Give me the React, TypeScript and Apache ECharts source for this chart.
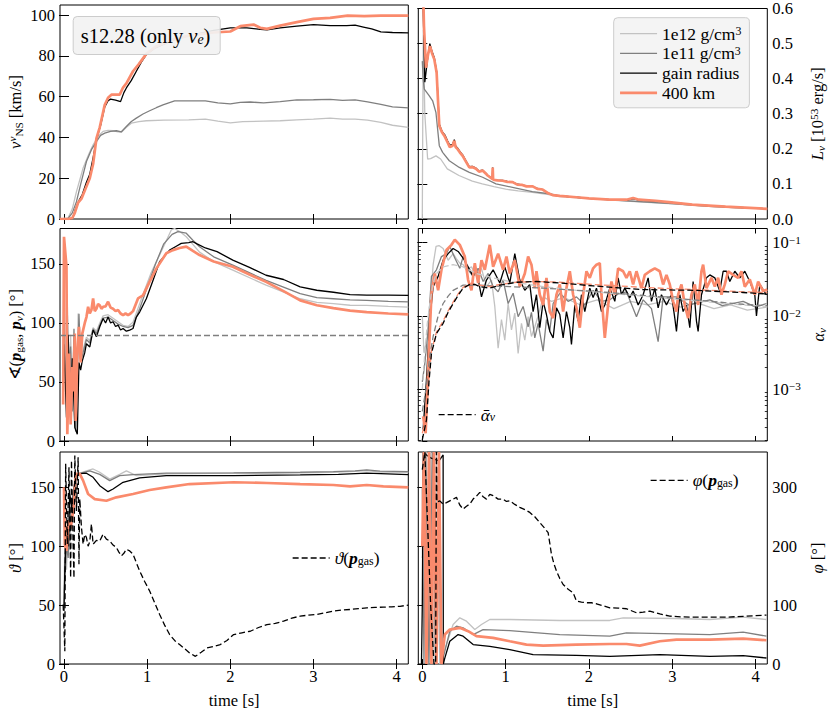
import { useEffect, useRef } from 'react';
import * as echarts from 'echarts';

type Pt = [number, number];

// ---------- axes ----------
const T_MIN = -0.048;
const T_MAX = 4.14;
const TIME_TICKS = [0, 1, 2, 3, 4];
const VNS_TICKS = [0, 20, 40, 60, 80, 100];
const LUM_TICKS = [0, 0.1, 0.2, 0.3, 0.4, 0.5, 0.6];
const ANGLE_TICKS = [0, 50, 100, 150];
const PHI_TICKS = [0, 100, 200, 300];
const ALPHA_MIN = 0.000197;
const ALPHA_MAX = 0.156;
const REF_ANGLE = 90;

const N12 = '1e12 g/cm³';
const N11 = '1e11 g/cm³';
const NGAIN = 'gain radius';
const N400 = '400 km';

// ---------- top left: v_NS [km/s] ----------
const vns1e12: Pt[] = [[-0.05,0],[0.05,0.5],[0.1,5],[0.15,13.4],[0.23,25],[0.3,32],[0.35,36.4],[0.42,41],[0.47,43],[0.53,43.5],[0.59,43.3],[0.65,42.8],[0.69,42.6],[0.75,45],[0.81,47],[0.9,47.8],[0.99,48.2],[1.2,48.5],[1.5,48.6],[1.7,49],[1.85,48],[2.0,47.2],[2.15,47.8],[2.4,48],[2.6,48.2],[2.8,48.6],[3.0,49],[3.2,49.5],[3.35,49],[3.5,49],[3.65,48.5],[3.81,47.4],[3.95,46],[4.14,45]];
const vns1e11: Pt[] = [[-0.05,0],[0.05,0.3],[0.1,3],[0.15,8.5],[0.2,17],[0.27,28.2],[0.33,34],[0.39,38],[0.44,41],[0.49,42.1],[0.56,43],[0.63,43.3],[0.69,42.8],[0.75,45.4],[0.81,47.8],[0.87,49.5],[0.95,51.5],[1.03,53.1],[1.11,54.6],[1.19,56],[1.33,58],[1.5,58],[1.7,58],[1.85,57],[2.0,56.5],[2.12,57.2],[2.24,57.4],[2.4,57],[2.6,57.6],[2.8,58.4],[3.0,58.5],[3.2,58.7],[3.35,58.2],[3.5,58.4],[3.65,57.5],[3.81,56.2],[3.95,55],[4.14,54.5]];
const vnsGain: Pt[] = [[-0.05,0],[0.08,0],[0.11,1],[0.14,5],[0.18,9],[0.22,12],[0.27,18],[0.31,22],[0.35,30],[0.39,39],[0.44,46],[0.49,55],[0.53,58],[0.56,58.8],[0.62,58.3],[0.68,57.6],[0.72,62],[0.75,64.3],[0.81,68],[0.87,72.5],[0.93,77],[0.99,80.7],[1.1,84],[1.3,87.5],[1.5,90],[1.8,92.5],[2.0,93.8],[2.2,93.8],[2.36,93],[2.44,92.8],[2.6,93.8],[2.8,94.6],[3.0,95.4],[3.2,94.9],[3.4,94.9],[3.5,95.1],[3.6,94.2],[3.7,93.3],[3.81,91.8],[3.95,91.5],[4.14,91.3]];
const vns400: Pt[] = [[-0.05,0],[0.05,0],[0.1,0.5],[0.13,3],[0.17,8],[0.21,10],[0.25,14],[0.31,20],[0.35,27],[0.39,39.5],[0.43,45],[0.49,56],[0.53,59.5],[0.57,61],[0.62,61],[0.67,61],[0.71,64.5],[0.75,66.5],[0.83,72.5],[0.9,76],[0.99,81],[1.1,84.5],[1.3,88],[1.5,90],[1.8,91.5],[2.0,92],[2.12,94.6],[2.28,95.4],[2.36,93.8],[2.44,93.3],[2.6,94.9],[2.8,96.6],[3.0,98.2],[3.2,98.7],[3.41,99.8],[3.61,99.5],[3.81,99.8],[4.14,99.8]];

// ---------- top right: L_nu [1e53 erg/s] ----------
const lum1e12: Pt[] = [[0.0,0],[0.005,0.25],[0.012,0.54],[0.03,0.3],[0.064,0.171],[0.1,0.172],[0.164,0.18],[0.22,0.171],[0.3,0.143],[0.44,0.124],[0.6,0.108],[0.72,0.1],[0.86,0.092],[1.0,0.085],[1.15,0.08],[1.32,0.076],[1.5,0.07],[1.65,0.064],[2.0,0.058],[2.45,0.051],[3.0,0.043],[3.44,0.036],[3.8,0.032],[4.14,0.029]];
const lum1e11: Pt[] = [[0.0,0.45],[0.01,0.4],[0.024,0.37],[0.084,0.351],[0.124,0.337],[0.164,0.303],[0.204,0.209],[0.244,0.19],[0.324,0.166],[0.444,0.147],[0.564,0.133],[0.724,0.119],[0.884,0.1],[1.124,0.088],[1.32,0.078],[1.52,0.072],[1.65,0.066],[2.0,0.059],[2.45,0.052],[3.0,0.044],[3.44,0.036],[3.8,0.032],[4.14,0.029]];
const lumGain: Pt[] = [[0.0,0.7],[0.02,0.5],[0.03,0.39],[0.06,0.45],[0.09,0.5],[0.12,0.475],[0.144,0.46],[0.172,0.42],[0.19,0.335],[0.204,0.27],[0.236,0.25],[0.27,0.24],[0.304,0.222],[0.33,0.21],[0.364,0.213],[0.384,0.226],[0.4,0.208],[0.424,0.202],[0.45,0.193],[0.484,0.183],[0.52,0.167],[0.564,0.149],[0.6,0.15],[0.644,0.145],[0.68,0.137],[0.724,0.139],[0.76,0.131],[0.784,0.125],[0.84,0.115],[0.845,0.147],[0.85,0.113],[0.9,0.111],[0.964,0.11],[1.02,0.107],[1.084,0.105],[1.14,0.099],[1.2,0.097],[1.25,0.094],[1.325,0.093],[1.38,0.087],[1.444,0.084],[1.5,0.075],[1.564,0.068],[1.65,0.066],[1.85,0.062],[2.0,0.059],[2.25,0.055],[2.45,0.054],[2.53,0.058],[2.6,0.054],[2.8,0.051],[2.96,0.048],[3.24,0.041],[3.64,0.035],[4.14,0.029]];
const lum400: Pt[] = [[0.0,0.75],[0.02,0.55],[0.044,0.431],[0.07,0.47],[0.092,0.493],[0.12,0.47],[0.144,0.455],[0.172,0.417],[0.19,0.33],[0.204,0.266],[0.236,0.247],[0.27,0.235],[0.304,0.218],[0.33,0.205],[0.364,0.209],[0.384,0.223],[0.4,0.205],[0.424,0.199],[0.45,0.19],[0.484,0.18],[0.52,0.165],[0.564,0.147],[0.6,0.148],[0.644,0.143],[0.68,0.135],[0.724,0.138],[0.76,0.13],[0.784,0.124],[0.84,0.114],[0.845,0.147],[0.85,0.112],[0.9,0.11],[0.964,0.109],[1.02,0.106],[1.084,0.105],[1.14,0.098],[1.2,0.097],[1.25,0.093],[1.325,0.093],[1.38,0.086],[1.444,0.084],[1.5,0.075],[1.564,0.068],[1.65,0.066],[1.85,0.062],[2.0,0.059],[2.25,0.055],[2.45,0.055],[2.53,0.06],[2.6,0.055],[2.8,0.052],[2.96,0.048],[3.24,0.041],[3.64,0.035],[4.14,0.029]];

// ---------- middle left: angle(p_gas, p_nu) [deg] ----------
const ang1e12: Pt[] = [[-0.01,40],[0.0,150],[0.02,60],[0.04,120],[0.06,20],[0.08,90],[0.1,30],[0.12,80],[0.14,10],[0.16,60],[0.17,108],[0.19,70],[0.22,75],[0.27,88],[0.31,85],[0.35,96],[0.39,93],[0.43,100],[0.47,106],[0.53,107],[0.59,104],[0.65,101],[0.71,98],[0.77,97],[0.83,100.7],[0.96,126],[1.05,143],[1.15,157.5],[1.29,178.8],[1.33,180],[1.4,177],[1.47,173],[1.63,160],[1.8,152],[2.03,144.7],[2.43,132],[2.84,120.5],[3.04,117.5],[3.24,116.3],[3.44,115],[3.64,114.8],[3.9,114],[4.14,113.4]];
const ang1e11: Pt[] = [[-0.01,60],[0.0,100],[0.02,40],[0.04,110],[0.06,30],[0.08,80],[0.1,25],[0.12,95],[0.14,8],[0.16,55],[0.18,107.8],[0.2,68],[0.22,72],[0.27,86],[0.31,83],[0.35,95],[0.39,91],[0.43,98],[0.47,104],[0.53,105],[0.59,102],[0.65,99],[0.71,97],[0.77,96],[0.83,98],[0.91,112],[0.99,128],[1.1,150],[1.2,167],[1.3,175],[1.37,177.4],[1.47,176],[1.55,170],[1.63,164.6],[1.8,156],[2.03,149],[2.43,136],[2.84,124.8],[3.04,121.5],[3.24,120.5],[3.44,119.5],[3.64,119.2],[3.9,118.3],[4.14,117.8]];
const angGain: Pt[] = [[-0.01,40],[0.0,82],[0.03,20],[0.05,90],[0.08,30],[0.1,70],[0.13,11.4],[0.16,5.7],[0.18,66.5],[0.2,60],[0.22,68],[0.25,75],[0.27,82.4],[0.31,79.7],[0.35,93.9],[0.39,88.3],[0.43,96.7],[0.47,103.8],[0.5,100],[0.53,105.1],[0.56,100],[0.59,101],[0.62,97],[0.65,98.2],[0.68,94],[0.71,95.3],[0.75,93],[0.79,93.9],[0.83,95.3],[0.87,105],[0.91,109.2],[0.99,120.5],[1.07,136],[1.15,151.8],[1.27,161.7],[1.35,165],[1.41,167.4],[1.5,168],[1.55,168.8],[1.6,167],[1.7,163.5],[1.84,160.4],[2.03,153.2],[2.23,147],[2.43,140.4],[2.64,136.8],[2.84,130.5],[3.04,127.7],[3.24,126],[3.44,124],[3.64,123.5],[3.9,123.6],[4.14,123.4]];
const ang400: Pt[] = [[-0.01,31],[0.0,173],[0.03,147.8],[0.04,5.7],[0.06,74],[0.08,14],[0.1,62.6],[0.11,42],[0.13,91],[0.14,17],[0.16,74],[0.18,96.7],[0.2,66.5],[0.22,91],[0.25,100],[0.27,105],[0.29,113.7],[0.31,108],[0.33,111],[0.35,120.8],[0.37,110],[0.39,112],[0.41,116],[0.43,115],[0.45,112],[0.47,113.7],[0.5,114],[0.53,118],[0.56,113],[0.59,112],[0.62,110],[0.65,111],[0.68,108],[0.71,106.6],[0.74,108],[0.77,106.6],[0.8,108],[0.83,110],[0.89,120.8],[0.95,123.4],[1.03,135],[1.11,146],[1.23,159],[1.31,161.7],[1.39,163.5],[1.47,164.6],[1.55,161],[1.63,157.5],[1.8,152],[2.03,147.6],[2.23,141],[2.43,134.8],[2.64,127],[2.84,119.1],[3.04,115],[3.24,112.6],[3.44,110.5],[3.64,109.2],[3.9,108],[4.14,107.2]];

// ---------- middle right: alpha_nu, stored as log10(alpha) ----------
const alpha1e12Log10: Pt[] = [[0.0,-2.0],[0.02,-2.5],[0.06,-2.3],[0.1,-1.8],[0.13,-1.3],[0.165,-1.05],[0.2,-1.04],[0.25,-1.08],[0.31,-1.24],[0.37,-1.15],[0.41,-1.22],[0.45,-1.28],[0.49,-1.3],[0.53,-1.37],[0.59,-1.33],[0.65,-1.46],[0.71,-1.35],[0.77,-1.6],[0.83,-1.51],[0.87,-1.87],[0.91,-2.44],[0.95,-2.05],[0.99,-2.33],[1.03,-1.83],[1.07,-2.19],[1.11,-1.96],[1.15,-2.51],[1.19,-2.1],[1.23,-2.33],[1.27,-2.01],[1.31,-2.28],[1.35,-2.15],[1.41,-1.92],[1.45,-1.74],[1.55,-1.8],[1.7,-1.75],[1.9,-1.85],[2.1,-1.78],[2.3,-1.9],[2.5,-1.8],[2.7,-1.85],[2.9,-1.8],[3.1,-1.88],[3.3,-1.82],[3.5,-1.9],[3.7,-1.85],[3.9,-1.92],[4.14,-1.88]];
const alpha1e11Log10: Pt[] = [[0.0,-2.9],[0.03,-2.65],[0.07,-2.19],[0.11,-1.46],[0.17,-1.37],[0.23,-1.19],[0.29,-1.15],[0.33,-1.05],[0.39,-1.21],[0.45,-1.35],[0.49,-1.19],[0.55,-1.37],[0.61,-1.46],[0.67,-1.35],[0.73,-1.53],[0.79,-1.42],[0.85,-1.6],[0.91,-1.67],[0.97,-1.51],[1.03,-1.83],[1.09,-1.69],[1.15,-2.01],[1.21,-1.87],[1.27,-2.15],[1.31,-1.95],[1.35,-2.3],[1.39,-2.1],[1.45,-2.48],[1.49,-2.05],[1.53,-2.2],[1.57,-1.83],[1.65,-1.69],[1.75,-1.8],[1.85,-1.74],[1.95,-1.85],[2.05,-1.65],[2.15,-1.8],[2.25,-1.78],[2.35,-1.7],[2.45,-1.67],[2.57,-2.01],[2.65,-1.78],[2.75,-1.9],[2.83,-2.35],[2.89,-1.74],[3.05,-1.74],[3.2,-1.85],[3.45,-1.78],[3.6,-1.86],[3.85,-1.8],[4.0,-1.88],[4.13,-1.83]];
const alphaGainLog10: Pt[] = [[0.01,-3.55],[0.05,-2.87],[0.09,-2.05],[0.13,-1.6],[0.19,-1.46],[0.25,-1.24],[0.31,-1.15],[0.37,-1.08],[0.43,-1.12],[0.49,-1.21],[0.55,-1.33],[0.61,-1.46],[0.65,-1.37],[0.71,-1.74],[0.77,-1.51],[0.85,-1.37],[0.93,-1.55],[0.99,-1.33],[1.05,-1.55],[1.11,-1.15],[1.17,-1.51],[1.23,-1.65],[1.29,-1.57],[1.33,-1.94],[1.37,-1.71],[1.41,-2.16],[1.45,-1.8],[1.49,-1.98],[1.53,-2.21],[1.57,-2.3],[1.61,-1.89],[1.65,-1.98],[1.69,-2.3],[1.73,-1.94],[1.77,-2.16],[1.79,-2.39],[1.83,-1.85],[1.87,-2.07],[1.91,-1.71],[1.95,-1.94],[2.01,-1.62],[2.05,-1.75],[2.09,-1.62],[2.15,-1.94],[2.19,-1.85],[2.25,-1.62],[2.31,-1.8],[2.35,-1.48],[2.39,-1.71],[2.43,-1.62],[2.49,-1.75],[2.53,-1.66],[2.59,-1.85],[2.65,-1.71],[2.71,-1.48],[2.75,-1.8],[2.79,-1.62],[2.83,-1.89],[2.87,-1.71],[2.93,-1.85],[2.99,-1.71],[3.03,-2.03],[3.05,-2.21],[3.09,-1.71],[3.13,-1.94],[3.17,-1.85],[3.21,-2.16],[3.25,-1.53],[3.29,-2.07],[3.31,-2.21],[3.35,-1.71],[3.41,-1.48],[3.45,-1.44],[3.51,-1.48],[3.57,-1.66],[3.61,-1.39],[3.65,-1.39],[3.69,-1.53],[3.75,-1.39],[3.81,-1.48],[3.87,-1.39],[3.93,-1.53],[3.99,-1.71],[4.01,-2.0],[4.05,-1.57],[4.13,-1.71]];
const alpha400Log10: Pt[] = [[0.01,-3.37],[0.04,-3.6],[0.07,-2.74],[0.11,-1.69],[0.15,-1.42],[0.19,-1.65],[0.23,-1.37],[0.29,-1.1],[0.35,-1.03],[0.39,-0.96],[0.45,-1.03],[0.51,-1.19],[0.55,-1.51],[0.59,-1.65],[0.63,-1.28],[0.67,-1.55],[0.71,-1.24],[0.75,-1.37],[0.81,-1.03],[0.85,-1.33],[0.91,-1.15],[0.97,-1.37],[1.01,-1.19],[1.05,-1.42],[1.11,-1.24],[1.17,-1.6],[1.23,-1.42],[1.27,-1.19],[1.31,-1.3],[1.35,-1.62],[1.37,-1.39],[1.41,-1.71],[1.45,-1.85],[1.49,-1.48],[1.53,-1.94],[1.57,-2.03],[1.61,-1.71],[1.65,-1.57],[1.69,-1.94],[1.73,-1.62],[1.77,-1.39],[1.81,-1.71],[1.85,-1.89],[1.89,-2.16],[1.93,-1.71],[1.97,-1.39],[2.01,-1.48],[2.05,-1.35],[2.09,-1.3],[2.13,-1.28],[2.15,-1.71],[2.19,-2.3],[2.23,-1.85],[2.27,-1.53],[2.31,-1.71],[2.35,-1.35],[2.41,-1.39],[2.45,-1.48],[2.49,-1.39],[2.53,-1.57],[2.57,-1.39],[2.63,-1.62],[2.67,-1.44],[2.73,-1.39],[2.79,-1.35],[2.85,-1.39],[2.89,-1.57],[2.93,-1.44],[2.97,-1.57],[3.01,-1.8],[3.05,-1.94],[3.07,-1.71],[3.11,-1.57],[3.15,-1.85],[3.19,-2.03],[3.23,-1.71],[3.27,-1.57],[3.31,-1.85],[3.35,-1.39],[3.37,-1.3],[3.41,-1.62],[3.47,-1.48],[3.51,-1.6],[3.55,-1.48],[3.59,-1.71],[3.63,-1.57],[3.67,-1.39],[3.73,-1.44],[3.79,-1.48],[3.83,-1.39],[3.87,-1.6],[3.93,-1.5],[3.99,-1.71],[4.03,-1.53],[4.09,-1.66],[4.14,-1.64]];
const abar1e12Log10: Pt[] = [[0.0,-3.0],[0.03,-2.51],[0.06,-2.1],[0.09,-1.83],[0.13,-1.55],[0.17,-1.42],[0.25,-1.33],[0.37,-1.3],[0.49,-1.33],[0.65,-1.42],[0.85,-1.48],[1.05,-1.53],[1.45,-1.6],[1.85,-1.65],[2.25,-1.69],[2.65,-1.73],[3.05,-1.77],[3.45,-1.81],[3.85,-1.85],[4.14,-1.87]];
const abar1e11Log10: Pt[] = [[0.0,-3.3],[0.05,-2.96],[0.09,-2.55],[0.13,-2.28],[0.19,-2.0],[0.25,-1.83],[0.31,-1.73],[0.37,-1.65],[0.49,-1.58],[0.65,-1.58],[1.05,-1.6],[1.45,-1.62],[1.85,-1.65],[2.25,-1.68],[2.65,-1.72],[3.05,-1.76],[3.45,-1.8],[3.85,-1.84],[4.14,-1.86]];
const abarGainLog10: Pt[] = [[0.0,-3.69],[0.05,-3.42],[0.08,-2.9],[0.11,-2.51],[0.17,-2.24],[0.25,-2.1],[0.31,-1.95],[0.37,-1.83],[0.43,-1.72],[0.49,-1.62],[0.57,-1.57],[0.63,-1.57],[0.69,-1.6],[0.75,-1.61],[0.81,-1.62],[0.93,-1.58],[1.13,-1.54],[1.37,-1.53],[1.65,-1.55],[2.05,-1.59],[2.65,-1.64],[3.25,-1.65],[3.85,-1.68],[4.14,-1.7]];
const abar400Log10: Pt[] = [[0.0,-3.6],[0.05,-3.38],[0.08,-2.85],[0.11,-2.48],[0.17,-2.22],[0.25,-2.07],[0.31,-1.93],[0.37,-1.81],[0.43,-1.7],[0.49,-1.61],[0.57,-1.56],[0.69,-1.58],[0.81,-1.6],[0.93,-1.57],[1.13,-1.54],[1.37,-1.53],[1.65,-1.54],[2.05,-1.57],[2.65,-1.61],[3.25,-1.64],[3.85,-1.67],[4.14,-1.68]];

// ---------- bottom left: theta [deg] ----------
const th1e12: Pt[] = [[0.0,60],[0.01,101.7],[0.03,80],[0.05,120],[0.07,100],[0.09,135],[0.12,150],[0.15,161],[0.27,164],[0.35,165.6],[0.43,162.8],[0.55,157],[0.67,161],[0.75,164],[0.87,160],[1.23,161.4],[2.04,162],[2.84,162.2],[3.24,162.8],[3.5,163.5],[3.64,164.2],[3.8,163],[4.14,162.8]];
const th1e11: Pt[] = [[0.0,50],[0.01,73],[0.03,100],[0.05,90],[0.08,130],[0.12,150],[0.15,161],[0.31,164],[0.43,161],[0.55,155.7],[0.67,160],[0.83,160.8],[1.23,162],[2.04,162.2],[2.84,162.8],[3.24,163.4],[3.5,164],[3.64,164.8],[3.8,163.8],[4.14,163.4]];
const thGain: Pt[] = [[0.0,45],[0.01,80],[0.03,116],[0.05,100],[0.07,144],[0.1,130],[0.13,155],[0.15,161.4],[0.27,162],[0.35,158.5],[0.43,151.4],[0.53,146.3],[0.59,148.6],[0.71,154.3],[0.91,158],[1.23,160],[2.04,160],[2.84,160.5],[3.3,161],[3.64,162],[4.14,160.8]];
const th400: Pt[] = [[0.0,150],[0.01,101.7],[0.03,96],[0.05,121.6],[0.08,115],[0.1,125],[0.12,135],[0.14,161.4],[0.19,161.4],[0.23,155.7],[0.29,144.3],[0.37,140],[0.51,138.6],[0.63,141.5],[0.83,144.3],[1.03,147.7],[1.23,150],[1.51,152.8],[2.04,154.3],[2.44,153.7],[2.84,152.8],[3.24,152],[3.44,150.8],[3.64,152],[3.84,150.8],[4.14,150]];
const thGas: Pt[] = [[-0.01,50.6],[0.01,10.8],[0.02,170],[0.04,101.7],[0.06,167],[0.08,73.3],[0.09,172.7],[0.11,100],[0.12,73],[0.13,177],[0.15,130],[0.17,175.6],[0.18,84.7],[0.19,140],[0.21,116],[0.23,101.7],[0.25,110],[0.27,107.4],[0.29,100],[0.31,104],[0.33,118.8],[0.35,101.7],[0.39,105],[0.43,104.5],[0.47,110.2],[0.51,106],[0.55,104.5],[0.59,101],[0.63,98.9],[0.66,95],[0.69,91.8],[0.72,94],[0.75,97.4],[0.79,96],[0.83,93.2],[0.87,86],[0.91,79],[0.97,70],[1.03,62],[1.09,52],[1.15,42],[1.21,33],[1.27,25],[1.33,20],[1.39,16.5],[1.45,13],[1.51,9.4],[1.58,6.5],[1.65,10],[1.72,13.6],[1.8,15],[1.88,16.5],[1.96,20],[2.04,25],[2.14,26.5],[2.24,27.8],[2.34,31],[2.44,33.5],[2.54,34.5],[2.64,36.4],[2.74,39],[2.84,40.6],[2.94,41.5],[3.04,42],[3.14,43.5],[3.24,44.9],[3.34,45.8],[3.44,46.3],[3.54,47],[3.64,47.7],[3.74,48],[3.84,48.3],[3.94,48.5],[4.04,49],[4.14,50]];

// ---------- bottom right: phi [deg] ----------
const ph1e12: Pt[] = [[0.0,180],[0.01,360],[0.05,360],[0.07,0],[0.1,360],[0.14,0],[0.17,360],[0.2,80],[0.21,0],[0.29,33],[0.37,67],[0.45,78.4],[0.53,72.7],[0.63,58.5],[0.71,67],[0.81,75.6],[1.05,75.6],[1.65,73.9],[2.25,73.9],[2.41,78.4],[3.05,77.3],[3.45,75.6],[3.85,79.5],[4.13,75.6]];
const ph1e11: Pt[] = [[0.0,300],[0.02,0],[0.04,360],[0.08,0],[0.12,360],[0.16,0],[0.2,360],[0.22,0],[0.25,10],[0.33,55.7],[0.41,64.2],[0.49,61.4],[0.61,50],[0.73,58.5],[1.05,56.8],[1.65,50],[2.25,47.2],[2.45,52.8],[3.05,51.1],[3.45,50],[3.85,54],[4.13,47.2]];
const phGain: Pt[] = [[-0.01,0],[0.0,100],[0.012,360],[0.05,355],[0.1,350],[0.2,345],[0.25,355],[0.252,0],[0.27,10],[0.33,38.6],[0.43,50],[0.49,47.2],[0.61,33],[0.81,30],[1.05,24.4],[1.33,16],[1.85,14.8],[2.25,13],[2.85,16],[3.45,13],[3.85,14.2],[4.13,10.2]];
const ph400: Pt[] = [[0.0,200],[0.02,360],[0.05,0],[0.08,360],[0.11,0],[0.14,360],[0.17,0],[0.2,360],[0.23,0],[0.27,50],[0.33,58.5],[0.45,61.4],[0.55,55.7],[0.65,47.2],[0.85,44.3],[1.05,38.6],[1.25,33],[1.45,31.25],[1.85,33],[2.25,34],[2.45,34],[2.61,31.3],[2.85,38.6],[3.05,41.5],[3.45,41.5],[3.85,43.2],[4.13,40.3]];
const phGas: Pt[] = [[0.0,330],[0.03,360],[0.06,250],[0.1,100],[0.14,0],[0.16,0],[0.17,360],[0.175,275],[0.21,277],[0.25,271.6],[0.29,274],[0.33,277],[0.37,280],[0.41,283],[0.45,270],[0.49,263],[0.53,268],[0.57,271.6],[0.61,280],[0.65,285],[0.69,291.5],[0.73,284],[0.77,280],[0.81,288],[0.85,285.8],[0.91,280],[0.97,280],[1.01,276],[1.05,277],[1.11,271],[1.17,266],[1.23,262],[1.29,257.4],[1.35,250],[1.41,240],[1.46,232],[1.51,223],[1.53,205],[1.55,186],[1.58,170],[1.61,158],[1.65,145],[1.69,135],[1.75,127],[1.81,121],[1.85,106.8],[1.91,105],[1.97,104],[2.03,104],[2.09,102.3],[2.17,99],[2.25,95.5],[2.35,95],[2.45,93.8],[2.57,87],[2.65,88],[2.73,89.8],[2.85,85],[2.97,81.3],[3.1,80],[3.25,79.5],[3.45,79.5],[3.65,79.5],[3.85,81],[4.0,82],[4.13,83]];

// ---------- styling ----------
const FONT = 'Liberation Serif, DejaVu Serif, serif';
const FS = 16.5;
const C_LIGHT = '#c2c2c2';
const C_DARK = '#7f7f7f';
const C_BLACK = '#000000';
const C_ORANGE = '#fa8a6c';
const W_THIN = 1.3;
const W_THICK = 2.7;
const DASH = [6, 3];

const base = { fontFamily: FONT, fontWeight: 'normal', color: '#000' };
const makeRich = (fs: number, lh: number) => ({
  i: { ...base, fontSize: fs, fontStyle: 'italic', lineHeight: lh },
  bi: { ...base, fontSize: fs, fontStyle: 'italic', fontWeight: 'bold', lineHeight: lh },
  sub: { ...base, fontSize: fs * 0.68, lineHeight: lh * 0.55, verticalAlign: 'bottom' },
  isub: { ...base, fontSize: fs * 0.68, fontStyle: 'italic', lineHeight: lh * 0.55, verticalAlign: 'bottom' },
  sup: { ...base, fontSize: fs * 0.68, lineHeight: lh * 0.55, verticalAlign: 'top' },
  isup: { ...base, fontSize: fs * 0.68, fontStyle: 'italic', lineHeight: lh * 0.55, verticalAlign: 'top' },
});
const RICH = makeRich(FS, 18);
const RICH_LEG = makeRich(17.5, 17);
const RICH_BIG = makeRich(20.5, 21);

const TXT = { ...base, fontSize: FS, fontStyle: 'normal', lineHeight: 18, rich: RICH };

const GRIDS = [
  { left: 60, top: 5, width: 348.3, height: 214 },
  { left: 418.3, top: 5, width: 349, height: 214 },
  { left: 60, top: 228.5, width: 348.3, height: 212.5 },
  { left: 418.3, top: 228.5, width: 349, height: 212.5 },
  { left: 60, top: 452, width: 348.3, height: 213.5 },
  { left: 418.3, top: 452, width: 349, height: 213.5 },
];

function makeX(gi: number, position: 'top' | 'bottom', labels: boolean) {
  return {
    type: 'value', gridIndex: gi, position, min: T_MIN, max: T_MAX,
    axisLine: { show: false }, splitLine: { show: false },
    axisTick: { show: true, inside: true, length: 5, lineStyle: { color: '#000', width: 1 }, customValues: TIME_TICKS },
    axisLabel: { show: labels, customValues: TIME_TICKS, margin: 4, ...base, fontSize: FS },
    name: labels ? 'time [s]' : '', nameLocation: 'middle', nameGap: 27, nameTextStyle: TXT,
  };
}

interface YOpt { min: number; max: number; ticks?: number[]; log?: boolean; fmt?: (v: number) => string; name?: string; gap?: number }

function makeY(gi: number, position: 'left' | 'right', labels: boolean, o: YOpt) {
  const ax: any = {
    type: o.log ? 'log' : 'value', gridIndex: gi, position, min: o.min, max: o.max,
    axisLine: { show: false }, splitLine: { show: false }, minorSplitLine: { show: false },
    axisTick: { show: true, inside: true, length: 5, lineStyle: { color: '#000', width: 1 } },
    axisLabel: { show: labels, margin: 5, ...base, fontSize: FS, rich: RICH },
    name: labels ? o.name : '', nameLocation: 'middle', nameGap: o.gap ?? 35, nameTextStyle: TXT,
  };
  if (o.log) {
    ax.logBase = 10;
    ax.axisLabel.showMinLabel = false;
    ax.axisLabel.showMaxLabel = false;
  } else {
    ax.axisTick.customValues = o.ticks;
    ax.axisLabel.customValues = o.ticks;
  }
  if (o.fmt) ax.axisLabel.formatter = o.fmt;
  return ax;
}

const logLabel = (v: number) => {
  const e = Math.round(Math.log10(v));
  return `10{sup|${e < 0 ? '−' : ''}${Math.abs(e)}}`;
};

const Y_SPECS: YOpt[] = [
  { min: 0, max: 105, ticks: VNS_TICKS, name: '{i|v}{isup|ν}{sub|NS} [km/s]', gap: 36 },
  { min: 0, max: 0.6, ticks: LUM_TICKS, fmt: (v) => v.toFixed(1), name: '{i|L}{isub|ν} [10{sup|53} erg/s]', gap: 41 },
  { min: 0, max: 180, ticks: ANGLE_TICKS, name: '∢({bi|p}{sub|gas}, {bi|p}{isub|ν}) [°]', gap: 36 },
  { min: ALPHA_MIN, max: ALPHA_MAX, log: true, fmt: logLabel, name: '{i|α}{isub|ν}', gap: 42 },
  { min: 0, max: 180, ticks: ANGLE_TICKS, name: '{i|ϑ} [°]', gap: 36 },
  { min: 0, max: 360, ticks: PHI_TICKS, name: '{i|φ} [°]', gap: 41 },
];

function minorLogTicks(): number[] {
  const out: number[] = [];
  for (let d = -4; d <= -1; d++) {
    for (let k = 2; k <= 9; k++) {
      const v = Math.log10(k) + d;
      if (v > Math.log10(ALPHA_MIN) && v < Math.log10(ALPHA_MAX)) out.push(v);
    }
  }
  return out;
}

function line(name: string, data: Pt[], gi: number, color: string, width: number, dashed = false, extra: any = {}) {
  return {
    type: 'line', name, data, xAxisIndex: gi * 2, yAxisIndex: gi * 2 + (gi % 2),
    showSymbol: false, symbol: 'none', clip: true, silent: true,
    lineStyle: { color, width, type: dashed ? DASH : 'solid' },
    itemStyle: { color }, emphasis: { disabled: true }, animation: false,
    ...extra,
  };
}

const fromLog = (d: Pt[]): Pt[] => d.map(([t, e]) => [t, Math.pow(10, e)]);

function buildOption() {
  const xAxis: any[] = [];
  const yAxis: any[] = [];
  GRIDS.forEach((_, gi) => {
    xAxis.push(makeX(gi, 'bottom', gi >= 4));
    xAxis.push(makeX(gi, 'top', false));
    const right = gi % 2 === 1;
    yAxis.push(makeY(gi, 'left', !right, Y_SPECS[gi]));
    yAxis.push(makeY(gi, 'right', right, Y_SPECS[gi]));
  });
  const minor = minorLogTicks();
  for (const pos of ['left', 'right'] as const) {
    yAxis.push({
      type: 'value', gridIndex: 3, position: pos, min: Math.log10(ALPHA_MIN), max: Math.log10(ALPHA_MAX),
      axisLine: { show: false }, splitLine: { show: false }, axisLabel: { show: false },
      axisTick: { show: true, inside: true, length: 2.5, lineStyle: { color: '#000', width: 0.8 }, customValues: minor },
    });
  }

  const series: any[] = [
    line(N12, vns1e12, 0, C_LIGHT, W_THIN),
    line(N11, vns1e11, 0, C_DARK, W_THIN),
    line(NGAIN, vnsGain, 0, C_BLACK, W_THIN),
    line(N400, vns400, 0, C_ORANGE, W_THICK),

    line(N12, lum1e12, 1, C_LIGHT, W_THIN),
    line(N11, lum1e11, 1, C_DARK, W_THIN),
    line(NGAIN, lumGain, 1, C_BLACK, W_THIN),
    line(N400, lum400, 1, C_ORANGE, W_THICK),

    line(N12, ang1e12, 2, C_LIGHT, W_THIN, false, {
      markLine: { silent: true, symbol: ['none', 'none'], label: { show: false }, animation: false,
        lineStyle: { color: C_DARK, width: W_THIN, type: DASH }, data: [{ yAxis: REF_ANGLE }] },
    }),
    line(N11, ang1e11, 2, C_DARK, W_THIN),
    line(NGAIN, angGain, 2, C_BLACK, W_THIN),
    line(N400, ang400, 2, C_ORANGE, W_THICK),

    line(N12, fromLog(alpha1e12Log10), 3, C_LIGHT, W_THIN),
    line(N11, fromLog(alpha1e11Log10), 3, C_DARK, W_THIN),
    line(NGAIN, fromLog(alphaGainLog10), 3, C_BLACK, W_THIN),
    line(N400, fromLog(alpha400Log10), 3, C_ORANGE, W_THICK),
    line('ᾱν 1e12', fromLog(abar1e12Log10), 3, '#c8c8c8', W_THIN, true),
    line('ᾱν 1e11', fromLog(abar1e11Log10), 3, C_DARK, W_THIN, true),
    line('ᾱν 400', fromLog(abar400Log10), 3, C_ORANGE, W_THIN, true),
    line('ᾱν', fromLog(abarGainLog10), 3, C_BLACK, W_THIN, true),

    line(N12, th1e12, 4, C_LIGHT, W_THIN),
    line(N11, th1e11, 4, C_DARK, W_THIN),
    line(NGAIN, thGain, 4, C_BLACK, W_THIN),
    line(N400, th400, 4, C_ORANGE, W_THICK),
    line('ϑ(p_gas)', thGas, 4, C_BLACK, W_THIN, true),

    line(N12, ph1e12, 5, C_LIGHT, W_THIN),
    line(N11, ph1e11, 5, C_DARK, W_THIN),
    line(NGAIN, phGain, 5, C_BLACK, W_THIN),
    line(N400, ph400, 5, C_ORANGE, W_THICK),
    line('φ(p_gas)', phGas, 5, C_BLACK, W_THIN, true),
  ];

  const legendBase = {
    show: true, orient: 'vertical', selectedMode: false, itemWidth: 37, itemHeight: 14,
    itemStyle: { opacity: 0 },
    textStyle: { ...base, fontSize: 17.5, fontStyle: 'normal', lineHeight: 17, rich: RICH_LEG },
  };

  const supFmt = (name: string) => name.replace('³', '{sup|3}');

  return {
    animation: false,
    textStyle: { fontFamily: FONT, fontWeight: 'normal', color: '#000' },
    grid: GRIDS.map((g) => ({ ...g, show: true, borderColor: '#000', borderWidth: 1, backgroundColor: 'transparent', containLabel: false })),
    xAxis, yAxis, series,
    title: {
      text: 's12.28 (only {i|ν}{isub|e})', left: 72.7, top: 16,
      padding: [9, 10, 9, 8], backgroundColor: 'rgba(242,242,242,0.92)', borderColor: '#cccccc', borderWidth: 1, borderRadius: 4,
      textStyle: { ...base, fontSize: 20.5, lineHeight: 21, rich: RICH_BIG },
    },
    legend: [
      {
        ...legendBase, left: 613.7, top: 17.7, padding: [7, 8, 6, 5], itemGap: 1.7,
        backgroundColor: 'rgba(242,242,242,0.85)', borderColor: '#cccccc', borderWidth: 1, borderRadius: 4,
        data: [
          { name: N12, lineStyle: { width: W_THIN } },
          { name: N11, lineStyle: { width: W_THIN } },
          { name: NGAIN, lineStyle: { width: W_THIN } },
          { name: N400, lineStyle: { width: W_THICK } },
        ],
        formatter: supFmt,
      },
      { ...legendBase, left: 438, top: 405.7, padding: 0, data: [{ name: 'ᾱν', lineStyle: { width: W_THIN } }], formatter: () => '{i|ᾱ}{isub|ν}' },
      { ...legendBase, left: 292, top: 549, padding: 0, data: [{ name: 'ϑ(p_gas)', lineStyle: { width: W_THIN } }], formatter: () => '{i|ϑ}({bi|p}{sub|gas})' },
      { ...legendBase, left: 650, top: 471.3, padding: 0, data: [{ name: 'φ(p_gas)', lineStyle: { width: W_THIN } }], formatter: () => '{i|φ}({bi|p}{sub|gas})' },
    ],
  };
}

export default function App() {
  const ref = useRef<HTMLDivElement>(null);
  useEffect(() => {
    document.body.style.margin = '0';
    if (!ref.current) return;
    const chart = echarts.init(ref.current, null, { renderer: 'svg' });
    chart.setOption(buildOption() as any);
    return () => chart.dispose();
  }, []);
  return <div ref={ref} style={{ width: 830, height: 710 }} />;
}
